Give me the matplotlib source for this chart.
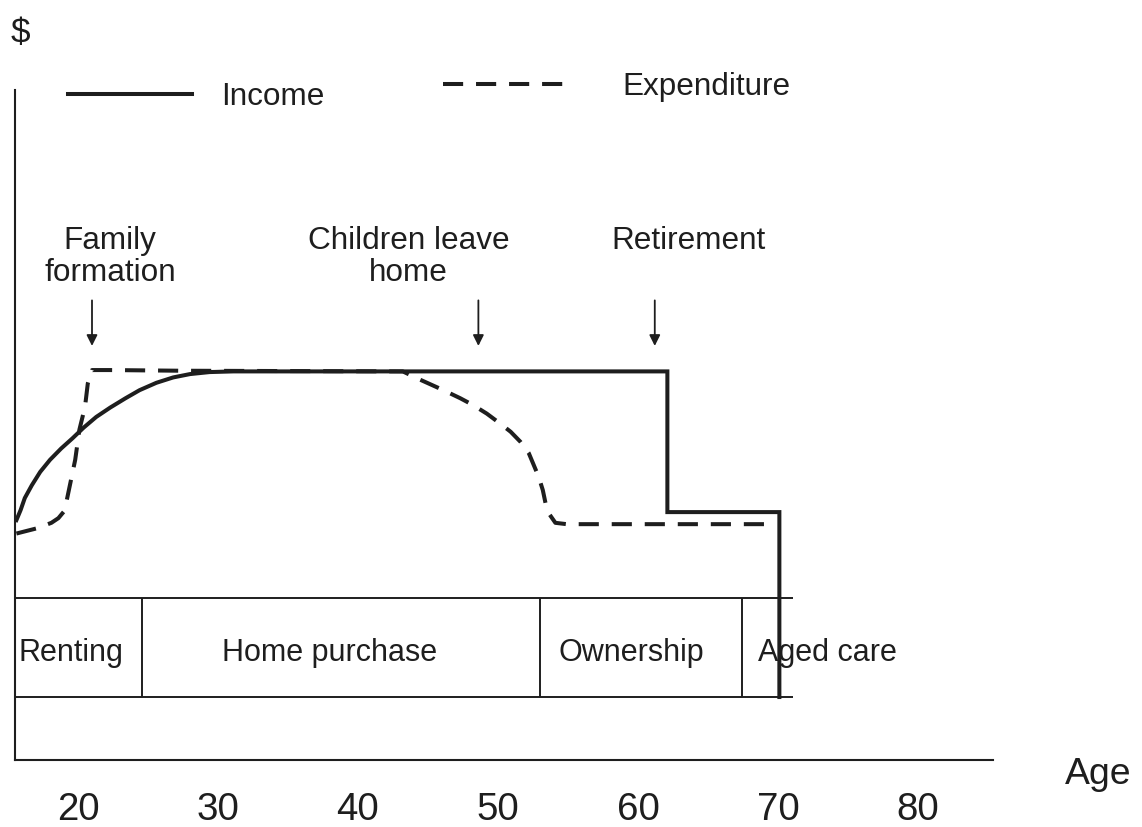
import matplotlib
matplotlib.use('Agg')
import matplotlib.pyplot as plt
from matplotlib import font_manager

# life-cycle values ($ on a 0-100 relative scale)
income_age = [15.6, 15.9, 16.2, 16.7, 17.3, 18.0, 18.8, 19.6, 20.4, 21.3, 22.3,
              23.4, 24.4, 25.6, 26.8, 28.0, 29.4, 31.1, 62.1, 62.1, 70.1, 70.1]
income = [35.8, 37.3, 39.1, 41.0, 43.0, 44.8, 46.5, 48.0, 49.6, 51.2, 52.6,
          54.0, 55.2, 56.3, 57.1, 57.6, 57.9, 58.0, 58.0, 37.0, 37.0, 9.4]

expend_age = [15.6, 17.1, 18.1, 18.6, 19.0, 19.2, 19.4, 19.8, 20.1, 20.5, 20.7,
              21.0, 22.3, 27.3, 43.2, 44.4, 46.1, 47.3, 48.2, 49.2, 50.1, 50.9,
              51.6, 52.2, 52.5, 52.9, 53.2, 53.4, 53.7, 54.1, 54.9, 69.9]
expenditure = [33.8, 34.6, 35.4, 36.1, 37.1, 38.8, 40.8, 44.8, 49.3, 52.7, 56.2,
               58.2, 58.2, 58.1, 58.0, 56.8, 55.2, 54.0, 53.0, 51.7, 50.3, 49.0,
               47.5, 45.8, 44.3, 42.3, 40.3, 38.3, 36.6, 35.4, 35.2, 35.2]

tenure = ['Renting', 'Home purchase', 'Ownership', 'Aged care']
tenure_edges = [15.5, 24.6, 53.0, 67.4, 71.1]
tenure_band = (9.4, 24.2)

events = ['Family\nformation', 'Children leave\nhome', 'Retirement']
event_age = [21.0, 48.6, 61.2]

age_ticks = [20, 30, 40, 50, 60, 70, 80]

ink = '#1e1e1e'
names = {f.name for f in font_manager.fontManager.ttflist}
narrow = 'Liberation Sans Narrow' in names
tall_font = 'Liberation Sans Narrow' if narrow else 'Liberation Sans'
k = 1.0 if narrow else 0.84

fig = plt.figure(figsize=(11.42, 8.27), dpi=100)
ax = fig.add_axes([15 / 1142, 67 / 827, 978 / 1142, 670 / 827])
ax.set_xlim(15.5, 85.36)
ax.set_ylim(0, 100)

exp_line, = ax.plot(expend_age, expenditure, color=ink, lw=2.9, dashes=(5, 3.2),
                    dash_capstyle='butt', label='Expenditure')
inc_line, = ax.plot(income_age, income, color=ink, lw=2.9,
                    solid_joinstyle='miter', label='Income')

# tenure strip
ax.hlines(tenure_band, tenure_edges[0], tenure_edges[-1], color=ink, lw=1.4)
ax.vlines(tenure_edges[1:-1], *tenure_band, color=ink, lw=1.4)
label_x = [19.5, 38.0, 59.5]
for name, x in zip(tenure[:-1], label_x):
    ax.text(x, 15.9, name, ha='center', va='center', fontsize=22,
            color=ink, family='Liberation Sans')
ax.text(tenure_edges[3] + 1.2, 15.9, tenure[3], ha='left', va='center',
        fontsize=22, color=ink, family='Liberation Sans')

# life events with arrows
text_x = [22.3, 43.6, 63.6]
for name, a, tx in zip(events, event_age, text_x):
    ax.text(tx, 79.7, name, ha='center', va='top', fontsize=27 * k,
            color=ink, family=tall_font, linespacing=1.1)
    ax.annotate('', xy=(a, 61.8), xytext=(a, 68.6),
                arrowprops=dict(arrowstyle='-|>', color=ink, lw=1.3,
                                mutation_scale=16, shrinkA=0, shrinkB=0))

# axes
for side in ['top', 'right']:
    ax.spines[side].set_visible(False)
for side in ['left', 'bottom']:
    ax.spines[side].set_linewidth(1.5)
    ax.spines[side].set_color(ink)
ax.set_yticks([])
ax.set_xticks(age_ticks)
ax.set_xticklabels([str(t) for t in age_ticks], fontsize=33 * k,
                   family=tall_font, color=ink)
ax.tick_params(axis='x', length=0, pad=23)

ax.text(15.9, 108.5, '$', ha='center', va='center', fontsize=30 * k,
        family=tall_font, color=ink, clip_on=False)
ax.text(90.5, -2.2, 'Age', ha='left', va='center', fontsize=32 * k,
        family=tall_font, color=ink, clip_on=False)

# legend: two entries set at slightly different heights, as in the original
leg_font = {'family': tall_font, 'size': 27 * k}
leg1 = ax.legend([inc_line], ['Income'], frameon=False, loc='upper left',
                 bbox_to_anchor=(68 / 1142, 1 - 82 / 827),
                 bbox_transform=fig.transFigure, borderpad=0, borderaxespad=0,
                 handlelength=3.95, handletextpad=0.92, prop=leg_font)
ax.add_artist(leg1)
leg2 = ax.legend([exp_line], ['Expenditure'], frameon=False, loc='upper left',
                 bbox_to_anchor=(443 / 1142, 1 - 72 / 827),
                 bbox_transform=fig.transFigure, borderpad=0, borderaxespad=0,
                 handlelength=3.95, handletextpad=1.75, prop=leg_font)
for leg in (leg1, leg2):
    for t in leg.get_texts():
        t.set_color(ink)

fig.savefig('out.png', dpi=100, facecolor='white')
